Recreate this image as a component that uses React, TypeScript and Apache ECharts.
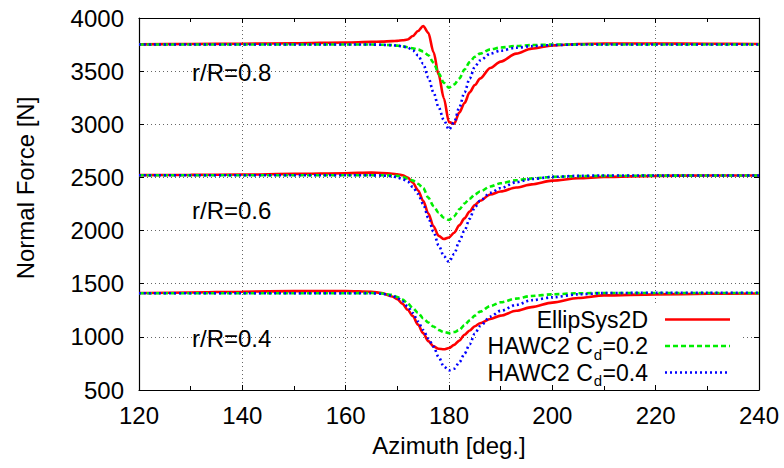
import React, { useEffect, useRef } from "react";
import * as echarts from "echarts";

// Azimuth sample positions [deg.]
const AZIMUTH = [120, 130, 140, 150, 160, 165, 167, 169, 170, 171, 172, 173, 174, 175, 176, 177, 178, 179, 180, 181, 182, 183, 184, 185, 186, 188, 190, 193, 196, 200, 205, 210, 220, 230, 240];

// r/R = 0.8
const ELLIPSYS_08 = [3752, 3755, 3758, 3762, 3770, 3775, 3778, 3782, 3785, 3790, 3798, 3830, 3877, 3925, 3860, 3680, 3465, 3245, 3020, 3005, 3110, 3200, 3300, 3370, 3430, 3530, 3590, 3665, 3712, 3742, 3755, 3760, 3760, 3758, 3755];
const HAWC_CD02_08 = [3750, 3750, 3750, 3750, 3750, 3750, 3748, 3745, 3740, 3733, 3725, 3715, 3703, 3685, 3650, 3580, 3480, 3390, 3345, 3375, 3430, 3515, 3585, 3635, 3665, 3705, 3722, 3737, 3745, 3750, 3750, 3750, 3750, 3750, 3750];
const HAWC_CD04_08 = [3750, 3750, 3750, 3750, 3750, 3750, 3748, 3744, 3740, 3733, 3722, 3695, 3650, 3570, 3440, 3300, 3160, 3040, 2950, 3020, 3160, 3300, 3430, 3540, 3600, 3665, 3692, 3720, 3735, 3745, 3750, 3750, 3750, 3750, 3750];

// r/R = 0.6
const ELLIPSYS_06 = [2522, 2524, 2527, 2533, 2540, 2545, 2542, 2535, 2530, 2520, 2500, 2450, 2380, 2280, 2160, 2040, 1950, 1920, 1935, 1980, 2050, 2115, 2180, 2240, 2280, 2340, 2368, 2405, 2435, 2470, 2492, 2505, 2515, 2518, 2518];
const HAWC_CD02_06 = [2520, 2520, 2520, 2520, 2520, 2520, 2520, 2518, 2515, 2505, 2490, 2470, 2440, 2400, 2310, 2230, 2170, 2120, 2100, 2135, 2200, 2255, 2300, 2340, 2368, 2415, 2445, 2473, 2490, 2505, 2512, 2515, 2517, 2518, 2518];
const HAWC_CD04_06 = [2520, 2520, 2520, 2520, 2520, 2520, 2518, 2512, 2500, 2485, 2460, 2410, 2345, 2250, 2120, 1990, 1860, 1760, 1705, 1780, 1900, 2000, 2110, 2220, 2280, 2355, 2400, 2455, 2485, 2505, 2515, 2518, 2518, 2518, 2518];

// r/R = 0.4
const ELLIPSYS_04 = [1412, 1418, 1425, 1430, 1432, 1425, 1412, 1380, 1355, 1310, 1255, 1195, 1115, 1035, 960, 910, 888, 883, 895, 925, 965, 1020, 1060, 1100, 1128, 1168, 1200, 1245, 1280, 1322, 1365, 1390, 1400, 1405, 1408];
const HAWC_CD02_04 = [1410, 1410, 1410, 1410, 1410, 1412, 1408, 1395, 1375, 1350, 1315, 1270, 1225, 1175, 1135, 1097, 1065, 1045, 1035, 1045, 1065, 1110, 1155, 1200, 1237, 1290, 1325, 1360, 1385, 1400, 1410, 1412, 1412, 1412, 1412];
const HAWC_CD04_04 = [1410, 1410, 1410, 1410, 1410, 1410, 1405, 1388, 1365, 1335, 1285, 1225, 1145, 1065, 985, 908, 810, 720, 685, 700, 760, 840, 930, 1030, 1100, 1190, 1245, 1300, 1345, 1372, 1400, 1412, 1415, 1415, 1415];

const SECTION_LABELS = ["r/R=0.8", "r/R=0.6", "r/R=0.4"];
const X_TITLE = "Azimuth [deg.]";
const Y_TITLE = "Normal Force [N]";

const FONT = "'Liberation Sans', Arial, Helvetica, sans-serif";
const FS = 24;
const LEG_FS = 23;
const SUB_FS = 15;
const RED = "#ff0000";
const GREEN = "#00ee00";
const BLUE = "#0000ff";

export default function App() {
  const ref = useRef<HTMLDivElement>(null);

  useEffect(() => {
    if (!ref.current) return;
    const chart = echarts.init(ref.current, null, { renderer: "svg" });

    const styles: Record<string, any> = {
      red: { color: RED, width: 2.6, type: "solid" },
      green: { color: GREEN, width: 2.6, type: [5, 3] },
      blue: { color: BLUE, width: 2.6, type: [2, 3] },
    };
    const mk = (name: string, vals: number[], key: string, z: number) => ({
      type: "line",
      name,
      data: AZIMUTH.map((a, i) => [a, vals[i]]),
      showSymbol: false,
      symbol: "none",
      smooth: 0.3,
      smoothMonotone: "x",
      silent: true,
      z,
      lineStyle: styles[key],
    });

    const series = [
      mk("EllipSys2D", ELLIPSYS_08, "red", 2),
      mk("EllipSys2D", ELLIPSYS_06, "red", 2),
      mk("EllipSys2D", ELLIPSYS_04, "red", 2),
      mk("HAWC2 Cd=0.2", HAWC_CD02_08, "green", 3),
      mk("HAWC2 Cd=0.2", HAWC_CD02_06, "green", 3),
      mk("HAWC2 Cd=0.2", HAWC_CD02_04, "green", 3),
      mk("HAWC2 Cd=0.4", HAWC_CD04_08, "blue", 4),
      mk("HAWC2 Cd=0.4", HAWC_CD04_06, "blue", 4),
      mk("HAWC2 Cd=0.4", HAWC_CD04_04, "blue", 4),
    ];

    const axisLine = { show: true, lineStyle: { color: "#000", width: 1.2 } };
    const splitLine = { show: true, lineStyle: { color: "#666", width: 1, type: [1, 3] } };
    const label = { color: "#000", fontSize: FS, fontFamily: FONT, formatter: (v: number) => String(v) };

    const txt = (text: string, x: number, y: number, align: string, size = FS, extra: any = {}) => ({
      type: "text",
      z: 5,
      x,
      y,
      ...extra,
      style: { text, fontSize: size, fontFamily: FONT, fill: "#000", textAlign: align, textVerticalAlign: "middle" },
    });

    // legend text pieces: right edge at 648; widths from font metrics
    const RIGHT = 648;
    const tailW = 1.974 * LEG_FS; // "=0.2"
    const subW = 0.556 * SUB_FS; // "d"
    const tailX = RIGHT - tailW;
    const subX = tailX - subW - 1;

    const legendRows = [
      { key: "red", y: 319.5, parts: ["EllipSys2D"] },
      { key: "green", y: 346, parts: ["HAWC2 C", "d", "=0.2"] },
      { key: "blue", y: 372.5, parts: ["HAWC2 C", "d", "=0.4"] },
    ];

    const graphic: any[] = [
      { type: "rect", z: 1, shape: { x: 477, y: 306, width: 266, height: 78 }, style: { fill: "#fff" }, silent: true },
      ...SECTION_LABELS.map((t, i) => txt(t, 192, [72, 210, 338][i], "left")),
      txt(Y_TITLE, 25, 188, "center", FS, { rotation: Math.PI / 2 }),
      ...legendRows.flatMap((r) => {
        const items: any[] = [];
        if (r.parts.length === 1) {
          items.push(txt(r.parts[0], RIGHT, r.y, "right", LEG_FS));
        } else {
          items.push(txt(r.parts[0], subX - 0.5, r.y, "right", LEG_FS));
          items.push(txt(r.parts[1], subX + 0.5, r.y + 8, "left", SUB_FS));
          items.push(txt(r.parts[2], tailX, r.y, "left", LEG_FS));
        }
        items.push({
          type: "line",
          z: 5,
          shape: { x1: 665, y1: r.y, x2: 730, y2: r.y },
          style: { stroke: styles[r.key].color, lineWidth: 2.6, lineDash: r.key === "red" ? null : styles[r.key].type },
        });
        return items;
      }),
    ];

    chart.setOption({
      animation: false,
      backgroundColor: "#fff",
      grid: { left: 139, right: 25, top: 18, bottom: 78, containLabel: false },
      xAxis: [
        {
          type: "value",
          min: 120,
          max: 240,
          interval: 20,
          position: "bottom",
          name: X_TITLE,
          nameLocation: "middle",
          nameGap: 43,
          nameTextStyle: { color: "#000", fontSize: FS, fontFamily: FONT },
          axisLine,
          axisTick: { show: true, inside: true, length: 5, lineStyle: { color: "#000" } },
          minorTick: { show: true, splitNumber: 2, length: 4, lineStyle: { color: "#000" } },
          axisLabel: { ...label, margin: 13 },
          splitLine,
        },
        {
          type: "value",
          min: 120,
          max: 240,
          interval: 20,
          position: "top",
          axisLine,
          axisTick: { show: true, inside: true, length: 5, lineStyle: { color: "#000" } },
          minorTick: { show: true, splitNumber: 2, length: 4, lineStyle: { color: "#000" } },
          axisLabel: { show: false },
          splitLine: { show: false },
        },
      ],
      yAxis: [
        {
          type: "value",
          min: 500,
          max: 4000,
          interval: 500,
          position: "left",
          axisLine,
          axisTick: { show: true, inside: true, length: 5, lineStyle: { color: "#000" } },
          axisLabel: { ...label, margin: 15 },
          splitLine,
        },
        {
          type: "value",
          min: 500,
          max: 4000,
          interval: 500,
          position: "right",
          axisLine,
          axisTick: { show: true, inside: true, length: 5, lineStyle: { color: "#000" } },
          axisLabel: { show: false },
          splitLine: { show: false },
        },
      ],
      series,
      graphic,
    });

    return () => chart.dispose();
  }, []);

  return <div ref={ref} style={{ position: "fixed", left: 0, top: 0, width: 784, height: 468 }} />;
}
